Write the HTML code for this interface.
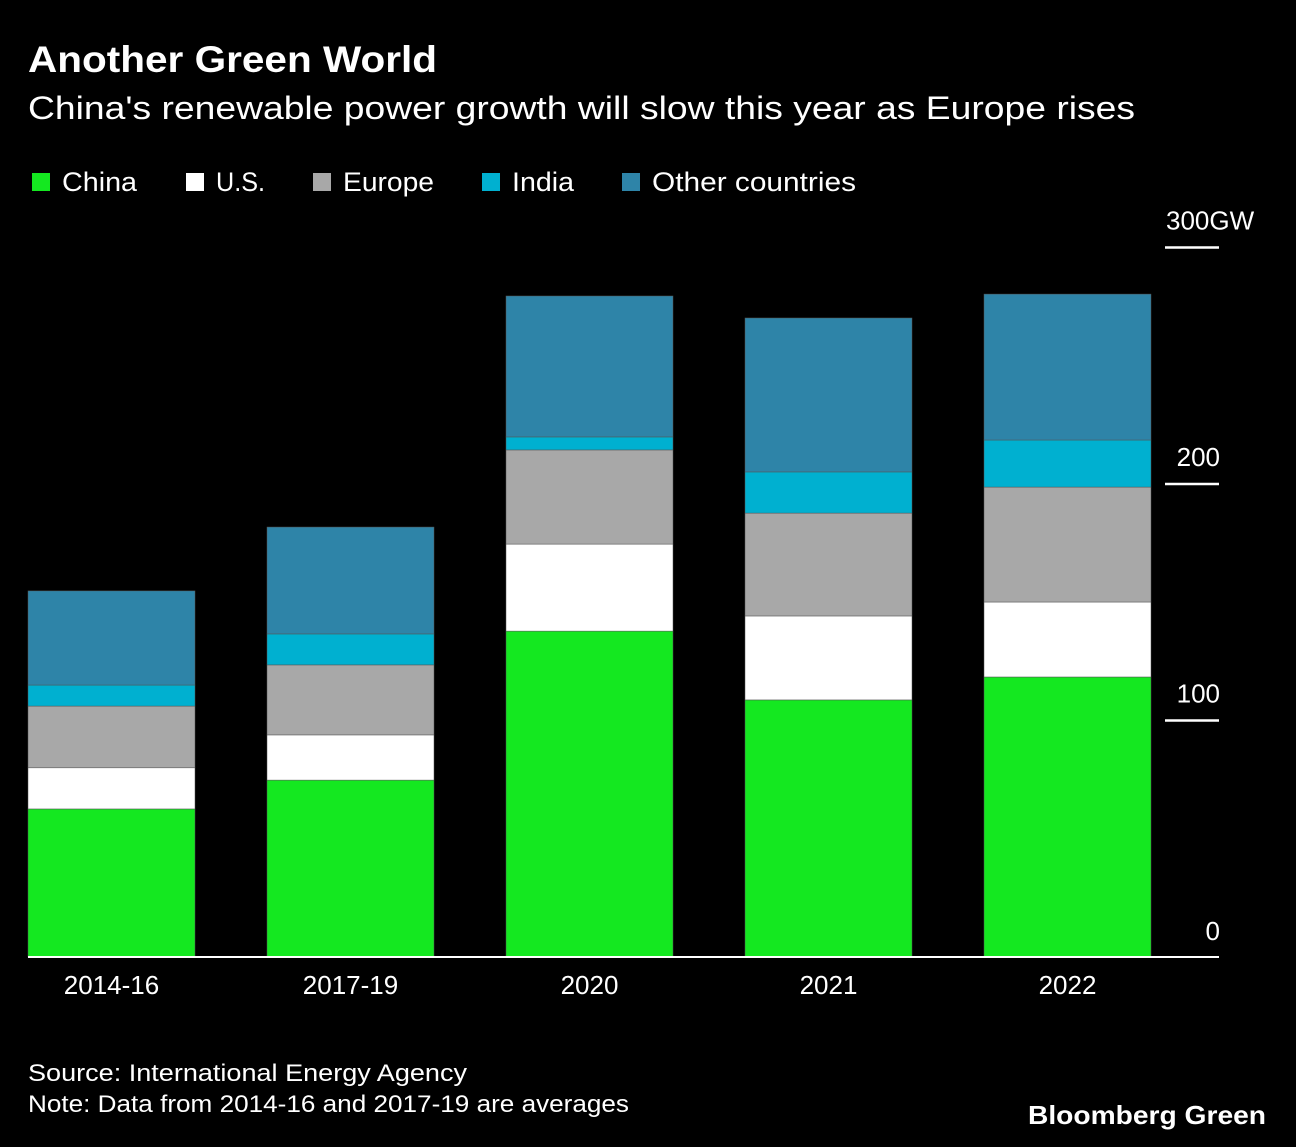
<!DOCTYPE html>
<html><head><meta charset="utf-8"><style>
body{margin:0;background:#000;width:1296px;height:1142px;overflow:hidden;font-family:"Liberation Sans",sans-serif;color:#fff}
</style></head><body>
<svg width="1296" height="1142" font-family="Liberation Sans, sans-serif">
<text x="28" y="72" font-size="37" font-weight="bold" fill="#fff" textLength="409" lengthAdjust="spacingAndGlyphs">Another Green World</text>
<text x="28" y="119" font-size="32" fill="#fff" textLength="1107" lengthAdjust="spacingAndGlyphs">China's renewable power growth will slow this year as Europe rises</text>
<g id="legend"></g>
<g id="bars"></g>
<g id="axis"></g>
<text x="28" y="1081" font-size="24" fill="#fff" textLength="439" lengthAdjust="spacingAndGlyphs">Source: International Energy Agency</text>
<text x="28" y="1112" font-size="24" fill="#fff" textLength="601" lengthAdjust="spacingAndGlyphs">Note: Data from 2014-16 and 2017-19 are averages</text>
<text x="1028" y="1124" font-size="26" font-weight="bold" fill="#fff" textLength="238" lengthAdjust="spacingAndGlyphs">Bloomberg Green</text>
</svg>
<script>
const categories=["2014-16","2017-19","2020","2021","2022"];
const seriesNames=["China","U.S.","Europe","India","Other countries"];
const china=[62.6,74.8,137.8,108.7,118.4];
const us=[17.4,19.1,36.8,35.5,31.7];
const europe=[26.1,29.6,39.8,43.5,48.6];
const india=[8.9,13.1,5.5,17.4,19.9];
const other=[39.8,45.2,59.6,65.1,61.7];
const ticks=[0,100,200,300];
const tickLabels=["0","100","200","300GW"];
const colors=["#14e820","#ffffff","#a8a8a8","#00b0d0","#2e84a8"];
const NS="http://www.w3.org/2000/svg";
const y0=957,pxPer=2.365;
const y=v=>y0-v*pxPer;
const bandStart=28,bandStep=239,barW=167;
const x=i=>bandStart+i*bandStep;
const series=[china,us,europe,india,other];
function mk(tag,attrs,parent){const e=document.createElementNS(NS,tag);for(const k in attrs)e.setAttribute(k,attrs[k]);parent.appendChild(e);return e;}
const bars=document.getElementById('bars');
categories.forEach((c,i)=>{
  let cum=0;
  series.forEach((s,j)=>{
    const r=mk('rect',{x:x(i),y:y(cum+s[i]),width:barW,height:s[i]*pxPer,fill:colors[j],stroke:'#555','stroke-width':0.5},bars);
    
    
    cum+=s[i];
  });
  const t=mk('text',{x:x(i)+barW/2,y:994,'font-size':26,fill:'#fff','text-anchor':'middle'},bars);
  t.textContent=c;
  
  
});
const axis=document.getElementById('axis');
const base=mk('line',{x1:28,x2:1219,y1:y0,y2:y0,stroke:'#fff','stroke-width':2},axis);


ticks.forEach((v,k)=>{
  if(v>0){const l=mk('line',{x1:1165,x2:1219,y1:y(v),y2:y(v),stroke:'#fff','stroke-width':2.5},axis);
  
  }
  const attrs={x:1220,y:y(v)-(v>0?18:17),'font-size':26,fill:'#fff','text-anchor':'end'};
  if(v===300){attrs['text-anchor']='start';attrs.x=1166;}
  const t=mk('text',attrs,axis);
  t.textContent=tickLabels[k];
  
  
});
const legend=document.getElementById('legend');
const lx=[32,186,313,482,622];
const lw=[75,49,91,62,204];
seriesNames.forEach((n,j)=>{
  const r=mk('rect',{x:lx[j],y:173,width:18,height:18,fill:colors[j]},legend);
  
  
  const t=mk('text',{x:lx[j]+30,y:191,'font-size':27,fill:'#fff',textLength:lw[j],lengthAdjust:'spacingAndGlyphs'},legend);
  t.textContent=n;
  
  
});
</script>
</body></html>
